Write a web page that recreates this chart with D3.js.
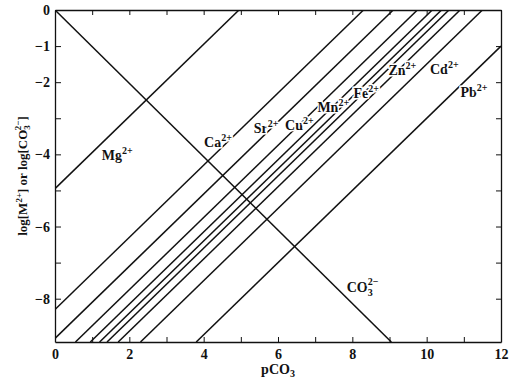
<!DOCTYPE html>
<html>
<head>
<meta charset="utf-8">
<script src="https://cdn.jsdelivr.net/npm/d3@7"></script>
<style>
body { margin: 0; background: #fff; }
text { font-family: "Liberation Serif", "Times New Roman", serif; font-weight: bold; fill: #111; }
.axis path, .axis line { stroke: #111; }
</style>
</head>
<body>
<svg id="chart" width="511" height="379"></svg>
<script>
// metal carbonate lines, end points (pCO3, log conc)
var ions     = ["Mg", "Ca", "Sr", "Cu", "Mn", "Fe", "", "Zn", "Cd", "Pb"];
var startP   = [0, 0, 0, 0.55, 0.95, 1.2, 1.4, 1.7, 2.3, 3.8];
var startLog = [-4.95, -8.3, -9.1, -9.2, -9.2, -9.2, -9.2, -9.2, -9.2, -9.2];
var endP     = [4.95, 8.3, 9.1, 9.75, 10.15, 10.4, 10.6, 10.9, 11.5, 12];
var endLog   = [0, 0, 0, 0, 0, 0, 0, 0, 0, -1.0];

// free carbonate line
var carbonateP   = [0, 9.05];
var carbonateLog = [0, -9.2];

// where the ion names sit
var labelIons = ["Mg", "Ca", "Sr", "Cu", "Mn", "Fe", "Zn", "Cd", "Pb"];
var labelP    = [1.26, 4.01, 5.35, 6.19, 7.06, 8.03, 8.97, 10.09, 10.91];
var labelLog  = [-4.16, -3.79, -3.42, -3.33, -2.82, -2.45, -1.80, -1.76, -2.40];
var carbonateLabelP = 7.85, carbonateLabelLog = -7.81;

var xTickValues = [0, 1, 2, 3, 4, 5, 6, 7, 8, 9, 10, 11, 12];
var xTickLabels = [0, 2, 4, 6, 8, 10, 12];
var yTickValues = [0, -1, -2, -3, -4, -5, -6, -7, -8];
var yTickLabels = [0, -1, -2, -4, -6, -8];

var svg = d3.select("#chart");
var margins = {top: 10, right: 10, bottom: 37, left: 55};
var width = +svg.attr("width") - margins.left - margins.right,
    height = +svg.attr("height") - margins.top - margins.bottom;

var x = d3.scaleLinear().domain([0, 12]).range([0, width]),
    y = d3.scaleLinear().domain([-9.2, 0]).range([height, 0]);

var g = svg.append("g")
    .attr("transform", "translate(" + margins.left + "," + margins.top + ")");

var minus = function(d) { return d < 0 ? "\u2212" + Math.abs(d) : "" + d; };

g.append("g")
    .attr("class", "axis")
    .attr("transform", "translate(0," + height + ")")
    .call(d3.axisBottom(x).tickValues(xTickValues).tickSizeInner(-5).tickSizeOuter(0).tickPadding(7)
        .tickFormat(function(d) { return xTickLabels.indexOf(d) >= 0 ? d : ""; }));

g.append("g")
    .attr("class", "axis")
    .call(d3.axisTop(x).tickValues(xTickValues).tickSizeInner(-5).tickSizeOuter(0).tickFormat(""));

g.append("g")
    .attr("class", "axis")
    .call(d3.axisLeft(y).tickValues(yTickValues).tickSizeInner(-6).tickSizeOuter(0).tickPadding(5)
        .tickFormat(function(d) { return yTickLabels.indexOf(d) >= 0 ? minus(d) : ""; }));

g.append("g")
    .attr("class", "axis")
    .attr("transform", "translate(" + width + ",0)")
    .call(d3.axisRight(y).tickValues(yTickValues).tickSizeInner(-5).tickSizeOuter(0).tickFormat(""));

svg.selectAll(".axis text").style("font-size", "14px").style("font-family", null);
svg.selectAll(".axis path").attr("stroke-width", 1.3);

var clip = g.append("clipPath").attr("id", "plotclip")
    .append("rect").attr("width", width).attr("height", height);

var lines = g.append("g").attr("clip-path", "url(#plotclip)");

lines.selectAll(".metal")
    .data(ions)
    .enter().append("line")
      .attr("class", "metal")
      .attr("x1", function(d, i) { return x(startP[i]); })
      .attr("y1", function(d, i) { return y(startLog[i]); })
      .attr("x2", function(d, i) { return x(endP[i]); })
      .attr("y2", function(d, i) { return y(endLog[i]); })
      .attr("stroke", "#111")
      .attr("stroke-width", 1.5);

lines.append("line")
    .attr("x1", x(carbonateP[0])).attr("y1", y(carbonateLog[0]))
    .attr("x2", x(carbonateP[1])).attr("y2", y(carbonateLog[1]))
    .attr("stroke", "#111")
    .attr("stroke-width", 1.5);

// ion labels, white halo breaks the lines like in the print
var labels = g.selectAll(".ion")
    .data(labelIons)
    .enter().append("text")
      .attr("class", "ion")
      .attr("x", function(d, i) { return x(labelP[i]); })
      .attr("y", function(d, i) { return y(labelLog[i]); })
      .style("font-size", "14px")
      .attr("stroke", "#fff")
      .attr("stroke-width", 3)
      .attr("paint-order", "stroke");
labels.append("tspan").text(function(d) { return d; });
labels.append("tspan").attr("dy", -6).style("font-size", "10px").text("2+");

var co3 = g.append("text")
    .attr("x", x(carbonateLabelP))
    .attr("y", y(carbonateLabelLog))
    .style("font-size", "14px")
    .attr("stroke", "#fff")
    .attr("stroke-width", 3)
    .attr("paint-order", "stroke");
co3.append("tspan").text("CO");
co3.append("tspan").attr("dy", 4).style("font-size", "10px").text("3");
co3.append("tspan").attr("dx", -5).attr("dy", -11).style("font-size", "10px").text("2\u2212");

// axis titles
var xt = svg.append("text")
    .attr("x", margins.left + width / 2)
    .attr("y", 374)
    .attr("text-anchor", "middle")
    .style("font-size", "14px");
xt.append("tspan").text("pCO");
xt.append("tspan").attr("dy", 3).style("font-size", "10px").text("3");

var yt = svg.append("text")
    .attr("transform", "translate(27," + (margins.top + height / 2) + ") rotate(-90)")
    .attr("text-anchor", "middle")
    .style("font-size", "13px");
yt.append("tspan").text("log[M");
yt.append("tspan").attr("dy", -5).style("font-size", "9px").text("2+");
yt.append("tspan").attr("dy", 5).text("] or log[CO");
yt.append("tspan").attr("dy", 3).style("font-size", "9px").text("3");
yt.append("tspan").attr("dx", -5).attr("dy", -9).style("font-size", "9px").text("2\u2212");
yt.append("tspan").attr("dy", 6).text("]");
</script>
</body>
</html>
